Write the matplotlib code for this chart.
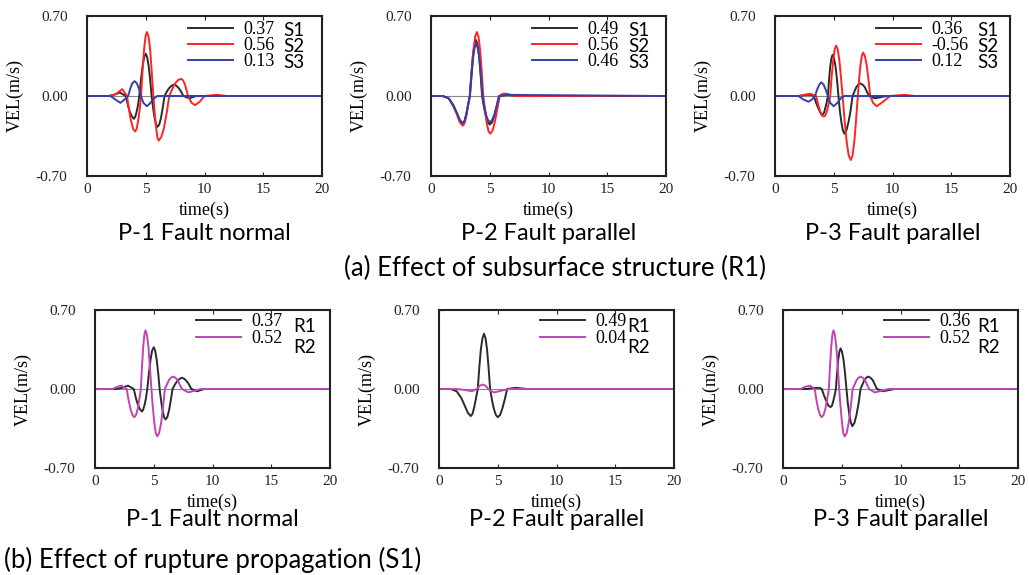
import matplotlib
matplotlib.use("Agg")
import matplotlib.pyplot as plt

# waveforms (time in s, velocity in m/s)
# P-1 fault normal
p1_s1_t = [0, 1.8, 2.3, 2.8, 3.3, 3.48, 3.65, 3.83, 4.0, 4.11, 4.22, 4.34, 4.45, 4.59, 4.73, 4.86, 5.0,
           5.12, 5.25, 5.38, 5.5, 5.62, 5.75, 5.88, 6.0, 6.15, 6.3, 6.45, 6.6, 6.8, 7.0, 7.2, 7.4,
           7.6, 7.8, 8.0, 8.2, 8.7, 9.3, 20]
p1_s1_v = [0, 0, 0.01, 0.03, 0, -0.08, -0.14, -0.18, -0.20, -0.18, -0.14, -0.08, 0, 0.14, 0.26, 0.34, 0.37,
           0.34, 0.26, 0.14, 0, -0.10, -0.19, -0.25, -0.27, -0.25, -0.19, -0.10, 0, 0.04, 0.07, 0.09, 0.10,
           0.09, 0.07, 0.04, 0, -0.02, 0, 0]
p1_s2_t = [0, 2.0, 2.5, 3.0, 3.4, 3.58, 3.75, 3.93, 4.1, 4.22, 4.35, 4.48, 4.6, 4.72, 4.85, 4.98, 5.1,
           5.24, 5.38, 5.51, 5.65, 5.76, 5.88, 5.99, 6.1, 6.32, 6.55, 6.78, 7.0, 7.25, 7.5, 7.75, 8.0,
           8.15, 8.3, 8.45, 8.6, 8.9, 9.2, 9.6, 10.0, 11.0, 12.0, 20]
p1_s2_v = [0, 0, 0.02, 0.06, 0, -0.12, -0.22, -0.29, -0.31, -0.29, -0.22, -0.12, 0, 0.21, 0.40, 0.52, 0.56,
           0.52, 0.40, 0.21, 0, -0.15, -0.28, -0.36, -0.39, -0.36, -0.28, -0.15, 0, 0.06, 0.11, 0.14, 0.15,
           0.14, 0.11, 0.06, 0, -0.06, -0.08, -0.05, 0, 0.01, 0, 0]
p1_s3_t = [0, 2.0, 2.4, 2.85, 3.2, 3.5, 3.7, 3.85, 4.05, 4.25, 4.4, 4.6, 4.8, 5.1, 5.4, 5.7, 6.0, 20]
p1_s3_v = [0, 0, -0.03, -0.06, -0.03, 0, 0.07, 0.11, 0.13, 0.11, 0.07, 0, -0.06, -0.09, -0.06, -0.02, 0, 0]
p1_r2_t = [0, 1.5, 1.9, 2.25, 2.7, 2.86, 3.03, 3.19, 3.35, 3.49, 3.63, 3.76, 3.9, 4.0, 4.1, 4.2, 4.3,
           4.42, 4.55, 4.67, 4.8, 4.92, 5.05, 5.17, 5.3, 5.46, 5.63, 5.79, 5.95, 6.12, 6.3, 6.47, 6.65,
           6.84, 7.02, 7.21, 7.4, 7.95, 9.0, 20]
p1_r2_v = [0, 0, 0.02, 0.03, 0, -0.10, -0.18, -0.23, -0.25, -0.23, -0.18, -0.10, 0, 0.20, 0.37, 0.48, 0.52,
           0.48, 0.37, 0.20, 0, -0.16, -0.30, -0.39, -0.42, -0.39, -0.30, -0.16, 0, 0.04, 0.08, 0.10, 0.11,
           0.10, 0.08, 0.04, 0, -0.03, 0, 0]

# P-2 fault parallel
p2_s1_t = [0, 1.0, 1.5, 1.9, 2.2, 2.45, 2.7, 2.85, 3.0, 3.15, 3.3, 3.43, 3.56, 3.7, 3.83,
           3.96, 4.09, 4.22, 4.35, 4.51, 4.68, 4.84, 5.0, 5.2, 5.4, 5.6, 5.8, 6.5, 7.5, 20]
p2_s1_v = [0, 0, -0.02, -0.08, -0.15, -0.21, -0.24, -0.22, -0.16, -0.08, 0, 0.19, 0.35, 0.45, 0.49,
           0.45, 0.35, 0.19, 0, -0.10, -0.18, -0.23, -0.25, -0.23, -0.17, -0.09, 0, 0.01, 0, 0]
p2_s2_t = [0, 1.0, 1.5, 1.9, 2.2, 2.45, 2.7, 2.85, 3.0, 3.15, 3.32, 3.47, 3.61, 3.76, 3.9,
           4.04, 4.18, 4.32, 4.45, 4.6, 4.75, 4.9, 5.05, 5.25, 5.45, 5.65, 5.85, 6.1, 6.4, 6.8, 7.3, 20]
p2_s2_v = [0, 0, -0.02, -0.09, -0.16, -0.23, -0.26, -0.24, -0.18, -0.09, 0, 0.21, 0.40, 0.52, 0.56,
           0.52, 0.40, 0.21, 0, -0.13, -0.24, -0.31, -0.33, -0.30, -0.22, -0.11, 0, 0.02, 0.02, 0.01, 0, 0]
p2_s3_t = [0, 1.0, 1.5, 1.9, 2.2, 2.45, 2.7, 2.85, 3.0, 3.15, 3.3, 3.44, 3.58, 3.71, 3.85,
           3.98, 4.12, 4.25, 4.38, 4.54, 4.7, 4.85, 5.0, 5.2, 5.4, 5.6, 5.8, 6.3, 20]
p2_s3_v = [0, 0, -0.02, -0.08, -0.15, -0.21, -0.24, -0.22, -0.16, -0.08, 0, 0.17, 0.33, 0.42, 0.46,
           0.42, 0.33, 0.17, 0, -0.09, -0.17, -0.21, -0.23, -0.21, -0.16, -0.08, 0, 0.01, 0]
p2_r2_t = [0, 1.5, 2.3, 2.8, 3.2, 3.5, 3.7, 3.95, 4.2, 4.45, 4.7, 5.1, 5.5, 6.0, 20]
p2_r2_v = [0, 0, -0.01, -0.02, 0, 0.03, 0.04, 0.03, 0, -0.02, -0.03, -0.02, -0.01, 0, 0]

# P-3 fault parallel
p3_s1_t = [0, 2.0, 2.6, 3.1, 3.3, 3.5, 3.7, 3.88, 4.05, 4.16, 4.27, 4.39, 4.5, 4.6, 4.7, 4.8, 4.9,
           5.02, 5.15, 5.28, 5.4, 5.52, 5.65, 5.78, 5.9, 6.08, 6.25, 6.43, 6.6, 6.76, 6.93, 7.09, 7.25,
           7.44, 7.63, 7.81, 8.0, 8.5, 9.5, 20]
p3_s1_v = [0, 0, 0.01, 0.01, 0, -0.06, -0.11, -0.15, -0.16, -0.15, -0.11, -0.06, 0, 0.14, 0.26, 0.33, 0.36,
           0.33, 0.26, 0.14, 0, -0.13, -0.23, -0.30, -0.33, -0.30, -0.23, -0.13, 0, 0.04, 0.08, 0.10, 0.11,
           0.10, 0.08, 0.04, 0, -0.02, 0, 0]
p3_s2_t = [0, 2.0, 2.5, 3.0, 3.5, 3.66, 3.83, 3.99, 4.15, 4.29, 4.43, 4.56, 4.7, 4.82, 4.95, 5.08, 5.2,
           5.34, 5.48, 5.61, 5.75, 5.92, 6.1, 6.27, 6.45, 6.6, 6.75, 6.9, 7.05, 7.16, 7.27, 7.39, 7.5,
           7.65, 7.8, 7.95, 8.1, 8.35, 8.65, 9.2, 9.8, 11.0, 12.0, 20]
p3_s2_v = [0, 0, 0.01, 0.02, 0, -0.07, -0.13, -0.17, -0.18, -0.17, -0.13, -0.07, 0, 0.17, 0.31, 0.41, 0.44,
           0.41, 0.31, 0.17, 0, -0.21, -0.40, -0.52, -0.56, -0.52, -0.40, -0.21, 0, 0.15, 0.27, 0.35, 0.38,
           0.35, 0.27, 0.15, 0, -0.06, -0.09, -0.05, 0, 0.01, 0, 0]
p3_s3_t = [0, 2.0, 2.4, 2.85, 3.15, 3.4, 3.6, 3.77, 3.95, 4.13, 4.3, 4.5, 4.7, 5.0, 5.3, 5.6, 5.9, 20]
p3_s3_v = [0, 0, -0.03, -0.05, -0.03, 0, 0.06, 0.10, 0.12, 0.10, 0.06, 0, -0.06, -0.09, -0.06, -0.02, 0, 0]
p3_r2_t = [0, 1.5, 1.9, 2.3, 2.7, 2.85, 3.0, 3.15, 3.3, 3.45, 3.6, 3.75, 3.9, 4.0, 4.1, 4.2, 4.3,
           4.42, 4.54, 4.66, 4.78, 4.9, 5.02, 5.13, 5.25, 5.42, 5.59, 5.76, 5.93, 6.1, 6.27, 6.43, 6.6,
           6.78, 6.97, 7.15, 7.33, 7.8, 9.0, 20]
p3_r2_v = [0, 0, 0.02, 0.03, 0, -0.10, -0.18, -0.23, -0.25, -0.23, -0.18, -0.10, 0, 0.20, 0.37, 0.48, 0.52,
           0.48, 0.37, 0.20, 0, -0.16, -0.30, -0.39, -0.42, -0.39, -0.30, -0.16, 0, 0.04, 0.08, 0.10, 0.11,
           0.10, 0.08, 0.04, 0, -0.03, 0, 0]

# peak values shown in the legends
top_peaks = [["0.37", "0.56", "0.13"], ["0.49", "0.56", "0.46"], ["0.36", "-0.56", "0.12"]]
bot_peaks = [["0.37", "0.52"], ["0.49", "0.04"], ["0.36", "0.52"]]
top_names = ["S1", "S2", "S3"]
bot_names = ["R1", "R2"]
titles = ["P-1 Fault normal", "P-2 Fault parallel", "P-3 Fault parallel"]

top_data = [[(p1_s1_t, p1_s1_v), (p1_s2_t, p1_s2_v), (p1_s3_t, p1_s3_v)],
            [(p2_s1_t, p2_s1_v), (p2_s2_t, p2_s2_v), (p2_s3_t, p2_s3_v)],
            [(p3_s1_t, p3_s1_v), (p3_s2_t, p3_s2_v), (p3_s3_t, p3_s3_v)]]
# R1 in (b) is the same case as S1 in (a)
bot_data = [[(p1_s1_t, p1_s1_v), (p1_r2_t, p1_r2_v)],
            [(p2_s1_t, p2_s1_v), (p2_r2_t, p2_r2_v)],
            [(p3_s1_t, p3_s1_v), (p3_r2_t, p3_r2_v)]]

top_colors = ["#2a2a2a", "#ff2424", "#3340aa"]
bot_colors = ["#2a2a2a", "#c044b4"]

serif = "Liberation Serif"
sans = "Lato"

W, H = 1029, 575
fig = plt.figure(figsize=(W / 100, H / 100), dpi=100)


def make_panel(left_px, top_px, h_px, series, colors, peaks, names, row1_px, pitch, name_dy, name_x):
    ax = fig.add_axes([left_px / W, 1 - (top_px + h_px) / H, 235 / W, h_px / H])
    ax.axhline(0, color="#888888", lw=0.8, zorder=1)
    handles = []
    for (t, v), c in zip(series, colors):
        ln, = ax.plot(t, v, color=c, lw=1.4, zorder=2)
        handles.append(ln)
    ax.set_xlim(0, 20)
    ax.set_ylim(-0.7, 0.7)
    ax.set_xticks([0, 5, 10, 15, 20])
    ax.set_yticks([-0.7, 0, 0.7])
    ax.set_yticklabels(["-0.70", "0.00", "0.70"])
    ax.tick_params(direction="in", length=3, width=0.8, top=True, right=True,
                   labelsize=11, colors="#222222")
    ax.tick_params(axis="y", pad=14)
    ax.tick_params(axis="x", pad=5)
    for lab in ax.get_xticklabels() + ax.get_yticklabels():
        lab.set_fontfamily(serif)
    for sp in ax.spines.values():
        sp.set_linewidth(1.5)
        sp.set_color("#222222")
    ax.set_xlabel("time(s)", family=serif, fontsize=13)
    ax.set_ylabel("VEL(m/s)", family=serif, fontsize=13)
    ax.yaxis.set_label_coords(-0.27, 0.5)
    ax.xaxis.set_label_coords(0.5, -26 / h_px)

    fs = 13
    em = fs * 100 / 72
    opts = dict(loc="upper left", frameon=False, handlelength=45 / em, handletextpad=10 / em,
                borderpad=0, borderaxespad=0, prop={"family": serif, "size": fs})
    leg = ax.legend(handles, peaks, bbox_to_anchor=(0.43, 1.0), labelspacing=0.0, **opts)
    # measure row pitch, then redo with the wanted spacing and move to the wanted rows
    fig.canvas.draw()
    ext = [tx.get_window_extent() for tx in leg.get_texts()]
    cur_pitch = ext[0].y0 - ext[1].y0
    leg = ax.legend(handles, peaks, bbox_to_anchor=(0.43, 1.0),
                    labelspacing=(pitch - cur_pitch) / em, **opts)
    fig.canvas.draw()
    e0 = leg.get_texts()[0].get_window_extent()
    want_y = H - row1_px
    cur_y = e0.y0 + 0.42 * e0.height
    leg.set_bbox_to_anchor((0.43, 1.0 + (want_y - cur_y) / h_px), transform=ax.transAxes)

    for i, nm in enumerate(names):
        yy = 1 - (row1_px - top_px + i * pitch) / h_px - name_dy * (i + 1)
        ax.text(name_x, yy, nm, transform=ax.transAxes,
                family=sans, fontsize=13.5, va="center", ha="left")
    return ax


top_lefts = [87, 431, 775]
bot_lefts = [95, 439, 783]
top_name_x = [0.834, 0.838, 0.86]
bot_name_x = [0.843, 0.80, 0.826]
for k in range(3):
    make_panel(top_lefts[k], 16, 160, top_data[k], top_colors, top_peaks[k], top_names,
               31, 16, 0.0, top_name_x[k])
    fig.text((top_lefts[k] + 117.5) / W, 1 - 234 / H, titles[k], family=sans, fontsize=17,
             ha="center", va="center")
for k in range(3):
    make_panel(bot_lefts[k], 310, 158, bot_data[k], bot_colors, bot_peaks[k], bot_names,
               323, 17, 0.025, bot_name_x[k])
    fig.text((bot_lefts[k] + 117.5) / W, 1 - 520 / H, titles[k], family=sans, fontsize=17,
             ha="center", va="center")

fig.text(555 / W, 1 - 268 / H, "(a) Effect of subsurface structure (R1)", family=sans,
         fontsize=18.5, ha="center", va="center")
fig.text(4 / W, 1 - 560 / H, "(b) Effect of rupture propagation (S1)", family=sans,
         fontsize=18.5, ha="left", va="center")

fig.savefig("out.png", dpi=100)
